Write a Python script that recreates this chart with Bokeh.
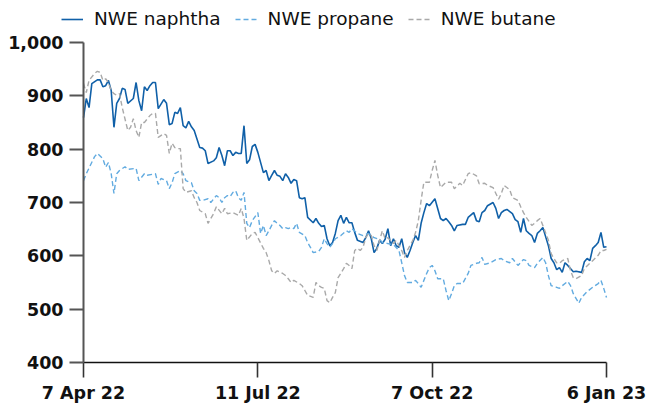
from bokeh.plotting import figure
from bokeh.models import Range1d, FixedTicker, NumeralTickFormatter, Legend, LegendItem
from bokeh.embed import file_html
from bokeh.resources import INLINE

# trading-day index (0 = 7 Apr 22, 189 = 6 Jan 23)
tick_days = [0, 63, 126, 189]
tick_labels = ["7 Apr 22", "11 Jul 22", "7 Oct 22", "6 Jan 23"]

naphtha_day = [0,1,2,3,5,6,7,8,9,10,11,12,13,14,15,16,18,19,20,21,22,23,24,25,26,27,29,30,31,32,33,34,35,36,37,38,39,40,42,43,44,45,47,48,49,50,51,52,53,54,55,56,57,58,59,60,61,62,63,65,66,67,68,69,70,71,72,73,74,75,76,77,78,79,80,81,83,84,85,86,87,88,89,90,91,92,93,94,95,96,97,98,99,101,102,103,104,105,106,107,108,109,110,111,112,113,114,115,116,117,118,119,120,121,122,123,124,125,127,129,130,131,132,133,134,135,137,138,139,141,142,143,144,145,146,148,149,150,151,152,153,155,156,157,158,159,160,161,162,163,164,165,166,167,168,169,170,171,172,173,174,175,177,178,180,181,182,183,184,185,186,187,188,189]
naphtha = [859,895,878,923,930,930,917,919,929,910,841,886,895,914,912,886,895,925,891,872,917,910,919,925,925,876,893,886,846,848,869,867,878,844,840,852,842,835,803,802,797,773,778,784,803,788,769,797,797,788,794,792,792,844,773,780,805,809,794,756,760,741,751,760,751,749,741,754,747,736,743,741,709,707,709,672,662,670,661,655,657,632,619,625,642,666,676,661,672,662,662,644,629,625,634,647,632,606,614,629,623,631,651,619,632,619,616,632,606,597,610,625,638,629,661,681,698,694,707,670,666,670,664,657,647,657,659,659,672,681,666,664,681,685,694,700,689,670,681,685,687,679,668,664,644,670,647,642,638,625,642,647,653,636,619,595,587,574,578,569,587,582,570,571,569,589,595,591,614,619,625,644,616,617]

propane_day = [0,1,4,5,7,8,9,10,11,12,13,15,16,19,20,22,23,26,27,28,30,31,32,33,35,36,37,39,40,41,42,43,45,46,48,49,50,51,52,53,54,55,56,57,58,59,60,61,63,64,65,66,67,68,69,70,71,72,73,74,75,76,77,78,80,81,82,83,85,86,87,88,89,90,91,93,95,96,97,99,101,103,105,107,108,110,112,114,115,116,117,119,120,121,122,124,125,126,127,128,130,131,132,133,134,135,137,139,140,142,143,144,145,147,149,151,152,154,155,157,159,160,161,163,164,166,167,168,169,171,172,173,175,176,177,179,180,182,184,186,187,188,189]
propane = [741,754,786,792,782,766,775,754,717,754,760,767,762,764,741,754,751,754,734,745,741,726,737,754,760,754,741,737,722,717,704,704,707,700,713,709,700,709,713,711,719,722,709,704,719,661,653,666,681,642,657,638,647,657,666,661,657,651,653,651,653,651,661,644,638,625,616,606,608,616,632,623,616,623,632,638,647,644,651,642,638,642,634,631,625,623,621,610,587,563,550,550,554,548,541,567,578,582,572,557,557,535,516,529,544,548,548,567,582,586,587,597,584,587,593,595,591,587,595,582,593,591,582,578,586,597,587,563,544,541,539,544,552,544,529,511,522,533,541,548,554,539,522]

butane_day = [0,1,2,4,5,6,7,8,9,10,11,12,13,14,16,17,18,19,20,21,22,24,25,26,27,29,30,31,32,33,34,35,36,37,39,40,41,42,44,45,47,48,50,51,52,54,56,57,58,59,61,62,63,65,66,67,68,69,70,72,73,74,75,76,78,79,80,81,83,84,85,86,87,88,89,90,91,92,94,95,96,97,98,99,100,101,102,103,104,105,106,107,108,109,110,112,113,115,116,117,119,120,121,122,123,125,126,127,128,129,131,133,134,136,137,139,140,142,143,145,146,148,150,151,152,154,155,157,158,159,160,162,163,164,165,166,168,169,170,171,172,173,175,176,177,178,180,181,183,184,186,187,188,189]
butane = [923,906,929,942,946,944,929,932,925,910,904,901,904,878,835,841,857,835,822,850,850,863,867,867,822,829,826,792,811,803,801,801,726,719,722,709,700,685,679,661,679,692,679,689,679,681,676,689,670,629,642,644,634,614,606,591,572,567,572,567,563,557,550,554,548,544,535,526,522,550,544,541,539,516,512,522,531,559,576,586,582,576,610,614,610,616,634,642,638,619,610,629,647,632,634,623,629,610,597,610,629,644,666,704,738,738,760,779,751,728,738,738,726,736,732,754,756,750,735,736,732,728,706,717,732,724,709,704,692,681,672,657,661,666,670,657,629,604,595,587,586,591,595,572,559,557,563,576,586,591,601,610,610,612]

series_names = ["NWE naphtha", "NWE propane", "NWE butane"]
series_colors = ["#1060a8", "#62abe0", "#a9a9a9"]
series_widths = [1.6, 1.4, 1.4]
series_dashes = ["solid", "5 3", "5 3"]
y_ticks = [400, 500, 600, 700, 800, 900, 1000]

FONT = "DejaVu Sans"

# The plotting frame fills the whole canvas so that the legend and the axis
# labels outside the data area are not clipped; both axes are pinned to the
# data origin and bounded to the data extent.
p = figure(width=650, height=406, output_backend="svg", toolbar_location=None,
           x_range=Range1d(-30.0, 204.9), y_range=Range1d(317.5, 1078.75),
           min_border_left=0, min_border_right=0, min_border_top=0, min_border_bottom=0)
p.outline_line_color = None
p.xgrid.visible = False
p.ygrid.visible = False

renderers = []
for xs, ys, c, w, d in zip([naphtha_day, propane_day, butane_day], [naphtha, propane, butane],
                           series_colors, series_widths, series_dashes):
    renderers.append(p.line(xs, ys, line_color=c, line_width=w, line_dash=d))

ya = p.yaxis[0]
ya.fixed_location = 0
ya.bounds = (400, 1000)
ya.ticker = FixedTicker(ticks=y_ticks)
ya.formatter = NumeralTickFormatter(format="0,0")
ya.axis_line_color = "#555555"
ya.axis_line_width = 2
ya.major_tick_line_color = "#555555"
ya.major_tick_line_width = 2
ya.major_tick_out = 14
ya.major_tick_in = 0
ya.minor_tick_line_color = None
ya.major_label_text_font = FONT
ya.major_label_text_font_style = "bold"
ya.major_label_text_font_size = "17.5px"
ya.major_label_text_color = "#111111"
ya.major_label_standoff = 6

xa = p.xaxis[0]
xa.fixed_location = 400
xa.bounds = (0, 189)
xa.ticker = FixedTicker(ticks=tick_days)
xa.major_label_overrides = {d: l for d, l in zip(tick_days, tick_labels)}
xa.axis_line_color = "#111111"
xa.axis_line_width = 1.6
xa.major_tick_line_color = "#333333"
xa.major_tick_line_width = 1.6
xa.major_tick_out = 15
xa.major_tick_in = 0
xa.minor_tick_line_color = None
xa.major_label_text_font = FONT
xa.major_label_text_font_style = "bold"
xa.major_label_text_font_size = "17.5px"
xa.major_label_text_color = "#111111"
xa.major_label_standoff = 5

legend = Legend(items=[LegendItem(label=n, renderers=[r]) for n, r in zip(series_names, renderers)],
                location=(61, 377), orientation="horizontal",
                label_text_font=FONT, label_text_font_size="18.5px", label_text_color="#111111",
                glyph_width=22, label_standoff=11, spacing=14, padding=0, margin=0,
                border_line_color=None, background_fill_alpha=0)
p.add_layout(legend, "center")

open("out.html", "w").write(file_html(p, INLINE))
